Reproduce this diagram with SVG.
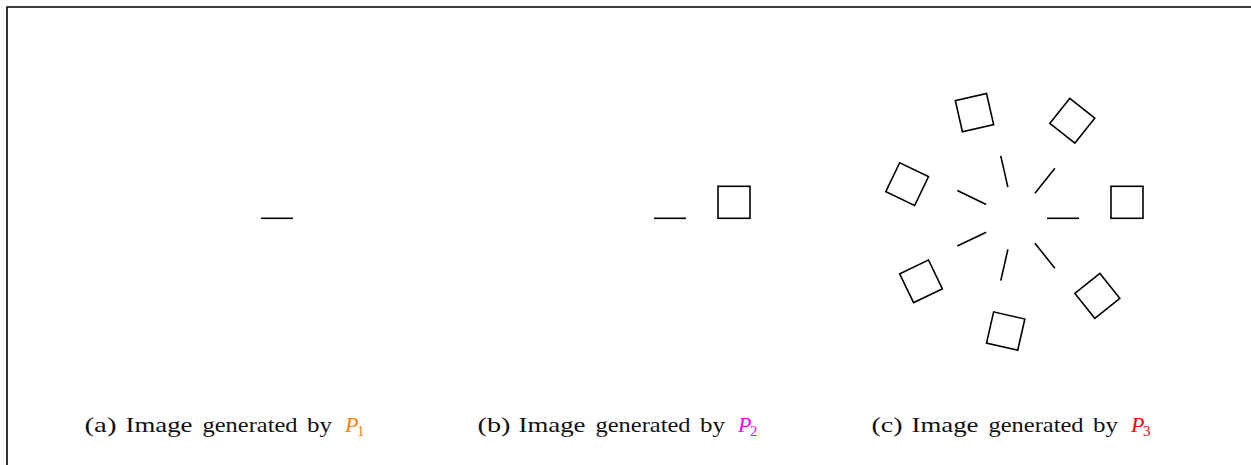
<svg xmlns="http://www.w3.org/2000/svg" width="1251" height="465" viewBox="0 0 1251 465">
<style>
.s{fill:none;stroke:#000;stroke-width:1.6}
.cap{font-family:"Liberation Serif","DejaVu Serif",serif;font-size:22px;fill:#111}
.p{font-family:"Liberation Serif","DejaVu Serif",serif;font-style:italic;font-size:22px}
.sub{font-family:"Liberation Serif","DejaVu Serif",serif;font-size:15px}
</style>
<defs>
<g id="unit"><line x1="32" y1="0" x2="64" y2="0" class="s"/><rect x="96" y="-32" width="32" height="32" class="s"/></g>
</defs>
<rect width="1251" height="465" fill="#fff"/>
<g id="frame"><path d="M7,465 V7 H1251" fill="none" stroke="#000" stroke-width="1.6"/></g>
<g id="p1" transform="translate(229,218.3)"><line x1="32" y1="0" x2="64" y2="0" class="s"/></g>
<g id="p2" transform="translate(622,218.3)"><use href="#unit"/></g>
<g id="p3" transform="translate(1015,218.3)">
<use href="#unit"/>
<use href="#unit" transform="rotate(51.4286)"/>
<use href="#unit" transform="rotate(102.8571)"/>
<use href="#unit" transform="rotate(154.2857)"/>
<use href="#unit" transform="rotate(205.7143)"/>
<use href="#unit" transform="rotate(257.1429)"/>
<use href="#unit" transform="rotate(308.5714)"/>
</g>
<g id="captions">
<g id="cap-a">
<text class="cap" x="84.5" y="432" textLength="32" lengthAdjust="spacingAndGlyphs">(a)</text>
<text class="cap" x="125.5" y="432" textLength="67" lengthAdjust="spacingAndGlyphs">Image</text>
<text class="cap" x="202.5" y="432" textLength="95" lengthAdjust="spacingAndGlyphs">generated</text>
<text class="cap" x="307" y="432" textLength="25" lengthAdjust="spacingAndGlyphs">by</text>
<text class="p" x="345" y="432" fill="#FF8000">P</text><text class="sub" x="357" y="436" fill="#FF8000">1</text>
</g>
<g id="cap-b">
<text class="cap" x="477.5" y="432" textLength="33" lengthAdjust="spacingAndGlyphs">(b)</text>
<text class="cap" x="518.5" y="432" textLength="67" lengthAdjust="spacingAndGlyphs">Image</text>
<text class="cap" x="595.5" y="432" textLength="95" lengthAdjust="spacingAndGlyphs">generated</text>
<text class="cap" x="700" y="432" textLength="25" lengthAdjust="spacingAndGlyphs">by</text>
<text class="p" x="738" y="432" fill="#FF00FF">P</text><text class="sub" x="750" y="436" fill="#FF00FF">2</text>
</g>
<g id="cap-c">
<text class="cap" x="871.5" y="432" textLength="31" lengthAdjust="spacingAndGlyphs">(c)</text>
<text class="cap" x="911.5" y="432" textLength="67" lengthAdjust="spacingAndGlyphs">Image</text>
<text class="cap" x="988.5" y="432" textLength="95" lengthAdjust="spacingAndGlyphs">generated</text>
<text class="cap" x="1093" y="432" textLength="25" lengthAdjust="spacingAndGlyphs">by</text>
<text class="p" x="1131" y="432" fill="#FF0000">P</text><text class="sub" x="1143" y="436" fill="#FF0000">3</text>
</g>
</g>
</svg>
